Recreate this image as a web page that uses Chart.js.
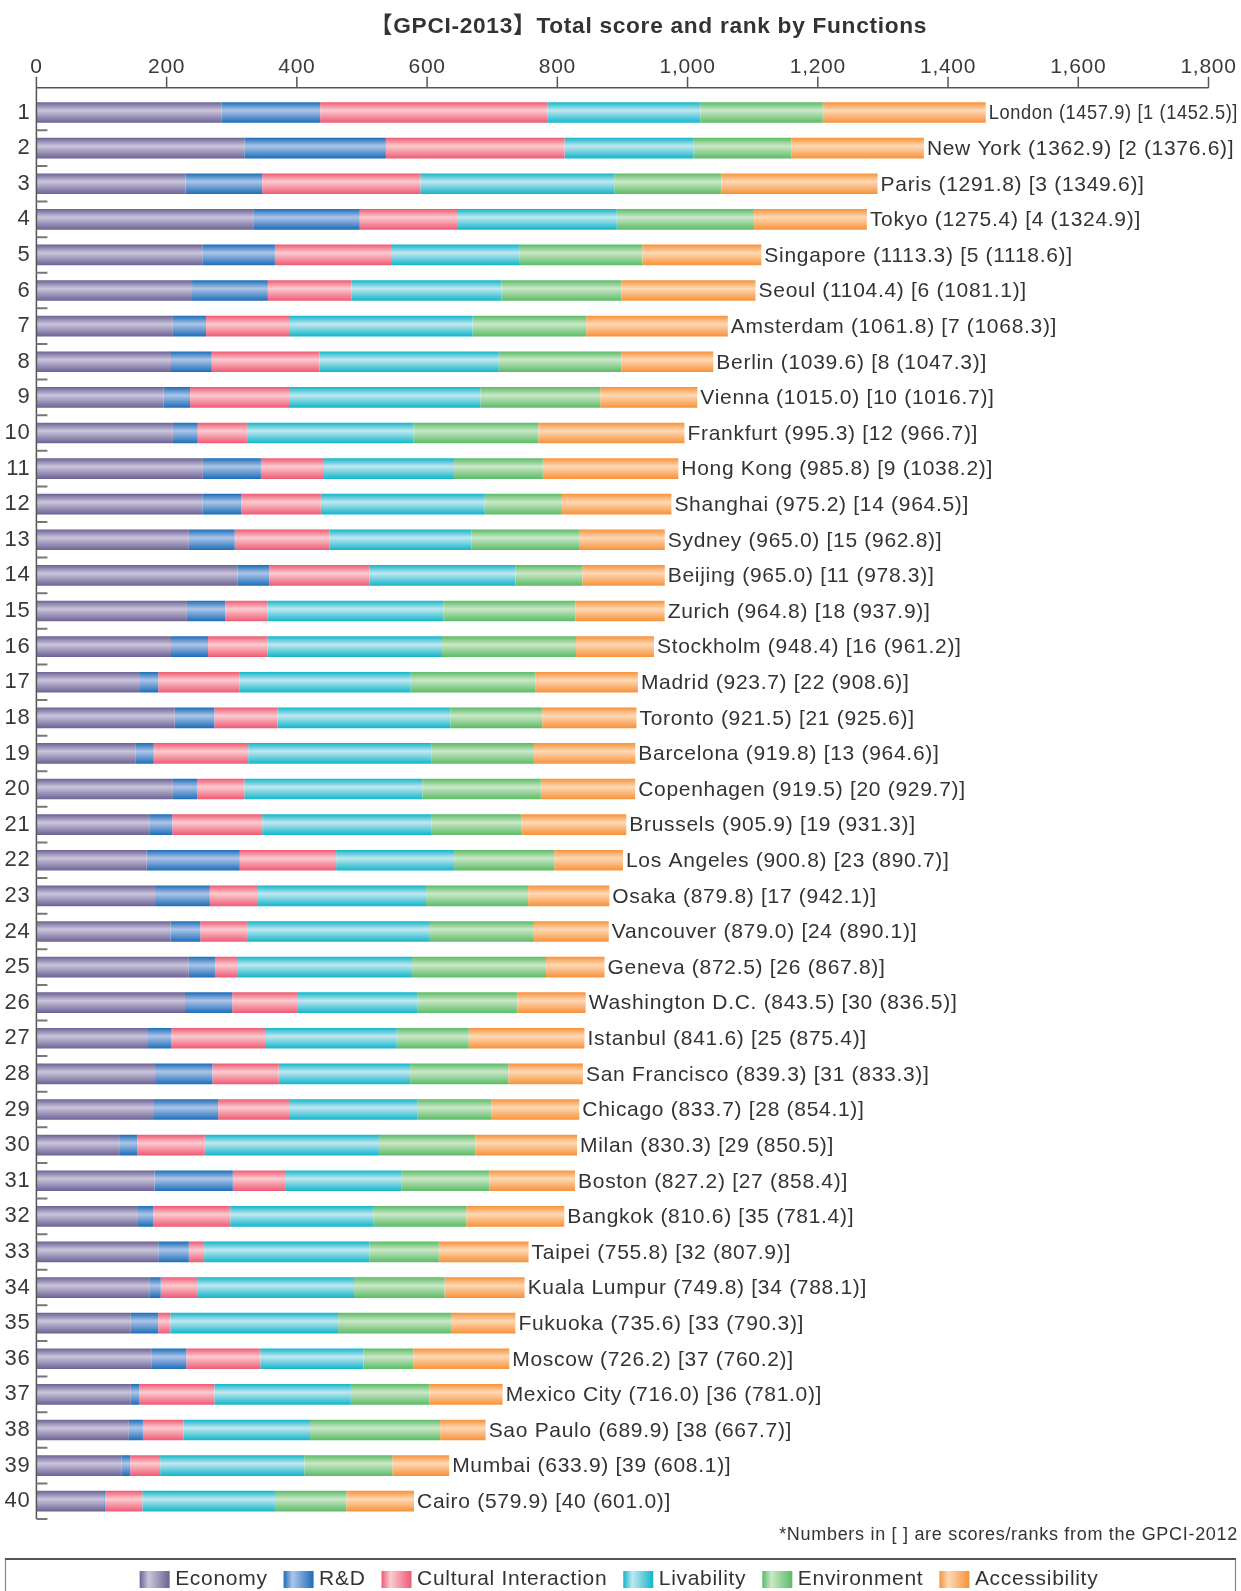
<!DOCTYPE html>
<html>
<head>
<meta charset="utf-8">
<title>GPCI-2013 Total score and rank by Functions</title>
<script src="https://cdn.jsdelivr.net/npm/chart.js@4.4.1/dist/chart.umd.min.js"></script>
<style>
  html, body { margin: 0; padding: 0; background: #fff; }
</style>
</head>
<body>
<canvas id="gpciChart" width="1241" height="1591"></canvas>
<script>
// rank 2013 (y tick labels)
const ranks = ['1','2','3','4','5','6','7','8','9','10','11','12','13','14','15','16','17','18','19','20',
  '21','22','23','24','25','26','27','28','29','30','31','32','33','34','35','36','37','38','39','40'];
const cities = ['London','New York','Paris','Tokyo','Singapore','Seoul','Amsterdam','Berlin','Vienna','Frankfurt',
  'Hong Kong','Shanghai','Sydney','Beijing','Zurich','Stockholm','Madrid','Toronto','Barcelona','Copenhagen',
  'Brussels','Los Angeles','Osaka','Vancouver','Geneva','Washington D.C.','Istanbul','San Francisco','Chicago','Milan',
  'Boston','Bangkok','Taipei','Kuala Lumpur','Fukuoka','Moscow','Mexico City','Sao Paulo','Mumbai','Cairo'];
const total2013 = [1457.9,1362.9,1291.8,1275.4,1113.3,1104.4,1061.8,1039.6,1015.0,995.3,
  985.8,975.2,965.0,965.0,964.8,948.4,923.7,921.5,919.8,919.5,
  905.9,900.8,879.8,879.0,872.5,843.5,841.6,839.3,833.7,830.3,
  827.2,810.6,755.8,749.8,735.6,726.2,716.0,689.9,633.9,579.9];
const rank2012 = [1,2,3,4,5,6,7,8,10,12,9,14,15,11,18,16,22,21,13,20,
  19,23,17,24,26,30,25,31,28,29,27,35,32,34,33,37,36,38,39,40];
const score2012 = [1452.5,1376.6,1349.6,1324.9,1118.6,1081.1,1068.3,1047.3,1016.7,966.7,
  1038.2,964.5,962.8,978.3,937.9,961.2,908.6,925.6,964.6,929.7,
  931.3,890.7,942.1,890.1,867.8,836.5,875.4,833.3,854.1,850.5,
  858.4,781.4,807.9,788.1,790.3,760.2,781.0,667.7,608.1,601.0];

// function scores
const economy = [284.0,319.3,229.2,334.0,254.7,239.0,209.6,206.7,194.9,209.6,
  255.6,254.7,234.1,308.5,231.1,206.7,157.7,212.5,151.8,209.6,
  174.3,169.4,182.2,205.7,234.1,228.2,171.4,182.2,179.2,128.3,
  181.2,154.7,187.1,174.3,145.0,176.3,145.0,142.0,130.3,103.8];
const rnd = [151.8,217.4,117.5,162.6,111.6,116.5,50.9,62.6,41.1,38.2,
  89.2,59.7,70.5,49.0,58.8,56.8,29.4,60.8,28.4,37.2,
  34.3,143.0,84.2,46.0,40.1,72.5,35.3,88.1,99.9,26.4,
  120.5,24.5,47.0,16.7,42.1,53.9,12.7,21.6,13.7,2.0];
const cultural = [348.7,274.3,242.9,150.8,178.3,128.3,127.4,165.6,151.9,75.4,
  96.9,122.4,145.9,153.8,64.7,91.1,124.4,96.9,145.0,72.5,
  138.1,147.9,72.5,71.5,35.3,100.9,145.9,101.9,108.8,103.9,
  80.2,118.5,23.5,55.8,18.6,113.6,115.6,62.6,46.0,56.8];
const livability = [235.1,197.8,297.8,243.9,197.8,230.2,282.0,275.2,293.8,255.6,
  199.8,251.7,217.5,224.3,270.3,268.3,263.4,265.4,281.1,273.3,
  260.5,181.2,259.5,281.1,267.4,184.1,200.8,201.7,196.8,267.4,
  178.3,219.4,253.7,241.0,257.6,158.6,209.6,194.0,221.4,203.7];
const environment = [188.0,150.8,164.5,210.6,188.1,184.1,174.4,188.0,184.1,192.0,
  136.2,118.5,166.5,102.8,202.7,205.7,191.0,141.1,157.7,182.1,
  137.2,153.8,156.7,159.7,205.7,152.8,110.7,150.9,113.6,147.9,
  135.2,143.0,106.7,139.0,173.3,76.4,120.4,199.8,135.1,109.7];
const accessibility = [250.3,203.3,239.9,173.5,182.8,206.3,217.5,141.5,149.2,224.5,
  208.1,168.2,130.5,126.6,137.2,119.8,157.8,144.8,155.8,144.8,
  161.5,105.5,124.7,115.0,89.9,105.0,177.5,114.5,135.4,156.4,
  131.8,150.5,137.8,123.0,99.0,147.4,112.7,69.9,87.4,103.9];

const xTicks = [0, 200, 400, 600, 800, 1000, 1200, 1400, 1600, 1800];

const FONT = '"Liberation Sans", Arial, "Noto Sans CJK JP", sans-serif';
const BAR_FRACTION = 0.58;

const series = [
  { name: 'Economy', data: economy, dark: '#6b6294', light: '#cbc5dc' },
  { name: 'R&D', data: rnd, dark: '#1b6db8', light: '#aec5e9' },
  { name: 'Cultural Interaction', data: cultural, dark: '#ee5a74', light: '#fccbd0' },
  { name: 'Livability', data: livability, dark: '#12b5ca', light: '#c1e8f0' },
  { name: 'Environment', data: environment, dark: '#5bbb66', light: '#cbe8c8' },
  { name: 'Accessibility', data: accessibility, dark: '#f7923a', light: '#fed9b6' }
];

// vertical shading on every bar segment
function barFill(s) {
  return (c) => {
    const chart = c.chart;
    const area = chart.chartArea;
    if (!area || c.type !== 'data') return s.dark;
    const center = chart.scales.y.getPixelForValue(c.dataIndex);
    const half = (area.bottom - area.top) / ranks.length * BAR_FRACTION / 2;
    const g = chart.ctx.createLinearGradient(0, center - half, 0, center + half);
    g.addColorStop(0, s.dark);
    g.addColorStop(0.4, s.light);
    g.addColorStop(1, s.dark);
    return g;
  };
}

const spacing = {
  id: 'spacing',
  beforeLayout(chart) { chart.ctx.letterSpacing = '0.7px'; },
  beforeDraw(chart) { chart.ctx.letterSpacing = '0.7px'; }
};

// title sits a little right of centre in the original
const topTitle = {
  id: 'topTitle',
  afterDraw(chart) {
    const ctx = chart.ctx;
    ctx.save();
    ctx.font = 'bold 22.7px ' + FONT;
    ctx.fillStyle = '#333';
    ctx.textAlign = 'center';
    ctx.textBaseline = 'middle';
    ctx.fillText('【GPCI-2013】Total score and rank by Functions', chart.width / 2 + 28, 27);
    ctx.restore();
  }
};

// axis lines sit a few px above the first slot, y ticks point inwards
const axisFrame = {
  id: 'axisFrame',
  afterDraw(chart) {
    const { ctx, chartArea, scales: { x, y } } = chart;
    const top = chartArea.top - 7;
    ctx.save();
    ctx.strokeStyle = '#555';
    ctx.lineWidth = 1.5;
    ctx.beginPath();
    ctx.moveTo(chartArea.left, chartArea.bottom);
    ctx.lineTo(chartArea.left, top);
    ctx.lineTo(chartArea.right, top);
    x.ticks.forEach(t => {
      const px = x.getPixelForValue(t.value);
      ctx.moveTo(px, top);
      ctx.lineTo(px, top - 11);
    });
    ctx.stroke();
    const step = (chartArea.bottom - chartArea.top) / ranks.length;
    ctx.strokeStyle = '#777';
    ctx.lineWidth = 2;
    ctx.beginPath();
    ranks.forEach((r, i) => {
      const py = y.getPixelForValue(i) + step / 2;
      ctx.moveTo(chartArea.left, py);
      ctx.lineTo(chartArea.left + 11, py);
    });
    ctx.stroke();
    ctx.restore();
  }
};

const endLabels = {
  id: 'endLabels',
  afterDatasetsDraw(chart) {
    const ctx = chart.ctx;
    const last = chart.getDatasetMeta(chart.data.datasets.length - 1);
    ctx.save();
    ctx.font = '21px ' + FONT;
    ctx.fillStyle = '#333';
    ctx.textAlign = 'left';
    ctx.textBaseline = 'middle';
    last.data.forEach((bar, i) => {
      const text = cities[i] + ' (' + total2013[i].toFixed(1) + ') [' + rank2012[i] + ' (' + score2012[i].toFixed(1) + ')]';
      const tx = bar.x + 3;
      ctx.fillText(text, tx, bar.y + 1, chart.width - 3 - tx);
    });
    ctx.restore();
  }
};

// frame round the legend and shaded swatches
const SWATCH_H = 17;
const legendBox = {
  id: 'legendBox',
  afterDraw(chart) {
    const ctx = chart.ctx;
    const lg = chart.legend;
    const fy = lg.top + 12;
    const itemH = lg.options.labels.boxHeight;
    ctx.save();
    ctx.strokeStyle = '#888';
    ctx.lineWidth = 1.2;
    ctx.strokeRect(5.5, fy, chart.width - 11, chart.height - fy + 5);
    ctx.strokeStyle = '#555';
    ctx.lineWidth = 2;
    ctx.beginPath();
    ctx.moveTo(5, fy);
    ctx.lineTo(chart.width - 5, fy);
    ctx.stroke();
    lg.legendHitBoxes.forEach((hb, i) => {
      const s = series[i];
      const bx = hb.left, by = hb.top + (itemH - SWATCH_H) / 2, bw = 30;
      const g = ctx.createLinearGradient(bx, 0, bx + bw, 0);
      g.addColorStop(0, s.dark);
      g.addColorStop(0.3, s.light);
      g.addColorStop(1, s.dark);
      ctx.fillStyle = g;
      ctx.fillRect(bx, by, bw, SWATCH_H);
    });
    ctx.restore();
  }
};

new Chart(document.getElementById('gpciChart'), {
  type: 'bar',
  data: {
    labels: ranks,
    datasets: series.map(s => ({
      label: s.name,
      data: s.data,
      backgroundColor: barFill(s),
      borderWidth: 0,
      barPercentage: BAR_FRACTION,
      categoryPercentage: 1
    }))
  },
  options: {
    indexAxis: 'y',
    responsive: false,
    animation: false,
    layout: { padding: { top: 39, right: 3, left: 0, bottom: 0 } },
    font: { family: FONT },
    scales: {
      x: {
        position: 'top',
        stacked: true,
        min: 0,
        max: 1800,
        afterBuildTicks(scale) { scale.ticks = xTicks.map(v => ({ value: v })); },
        afterFit(scale) {
          scale.height = 55.7;
          scale.paddingLeft = 0;
          scale.paddingRight = 0;
        },
        grid: { display: false, drawTicks: false },
        border: { display: false },
        ticks: {
          padding: 15,
          color: '#3a3a3a',
          font: { family: FONT, size: 21 },
          callback: v => v.toLocaleString('en-US')
        }
      },
      y: {
        stacked: true,
        afterFit(scale) { scale.width = 36.4; },
        grid: { display: false, drawTicks: false },
        border: { display: false },
        ticks: {
          padding: 6,
          color: '#3a3a3a',
          autoSkip: false,
          font: { family: FONT, size: 22 }
        }
      },
      rightPad: {
        type: 'linear',
        position: 'right',
        display: false,
        afterFit(scale) { scale.width = 29.5; }
      }
    },
    plugins: {
      title: { display: false },
      subtitle: {
        display: true,
        position: 'bottom',
        align: 'end',
        text: '*Numbers in [ ] are scores/ranks from the GPCI-2012',
        color: '#333',
        font: { family: FONT, size: 18, weight: 'normal' },
        padding: { top: 5.2, bottom: 1.2 }
      },
      legend: {
        position: 'bottom',
        weight: 2500,
        maxHeight: 44,
        labels: {
          boxWidth: 25,
          boxHeight: 33,
          padding: 16,
          color: '#333',
          font: { family: FONT, size: 21 },
          generateLabels: () => series.map((s, i) => ({
            text: s.name,
            fillStyle: 'rgba(0,0,0,0)',
            strokeStyle: 'rgba(0,0,0,0)',
            lineWidth: 0,
            hidden: false,
            datasetIndex: i,
            fontColor: '#333'
          }))
        }
      },
      tooltip: { enabled: false }
    }
  },
  plugins: [spacing, topTitle, axisFrame, endLabels, legendBox]
});
</script>
</body>
</html>
